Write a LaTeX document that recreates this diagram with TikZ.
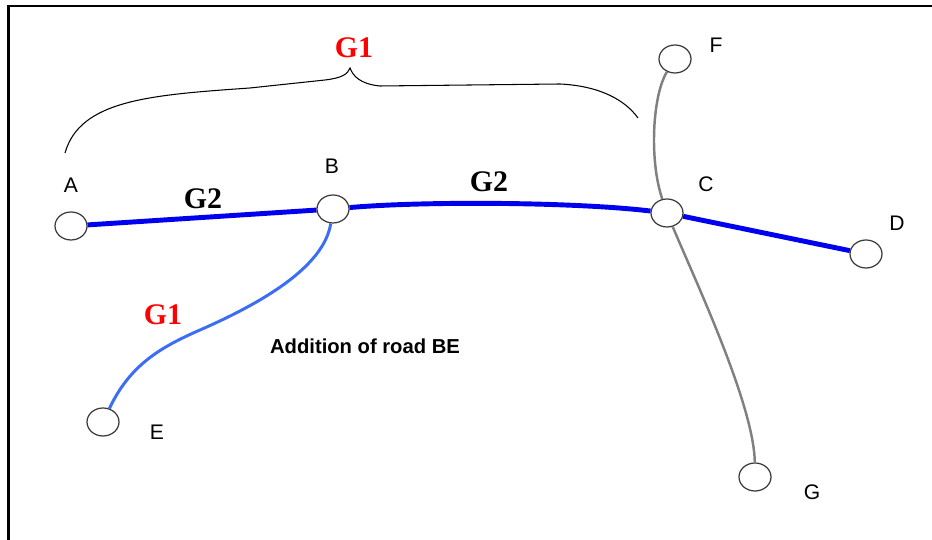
\documentclass[tikz,border=0pt]{standalone}
\usepackage{fontspec}
\setmainfont{Liberation Serif}
\setsansfont{Liberation Sans}
\usepackage{xcolor}
\usetikzlibrary{shapes.geometric}

\definecolor{roadblue}{HTML}{0000EE}
\definecolor{newblue}{HTML}{3C6EF5}
\definecolor{roadgray}{HTML}{808080}
\definecolor{ringgray}{HTML}{3A3A3A}

\begin{document}
\begin{tikzpicture}[
    town/.style={ellipse, draw=ringgray, line width=0.7pt, fill=white,
      minimum width=0.64cm, minimum height=0.56cm, inner sep=0pt},
    lbl/.style={font=\sffamily\fontsize{12}{14}\selectfont},
    glabel/.style={font=\rmfamily\bfseries\fontsize{17}{19}\selectfont},
    mainroad/.style={roadblue, line width=2.8pt},
    newroad/.style={newblue, line width=1.7pt},
    sideroad/.style={roadgray, line width=1.4pt}]
    \useasboundingbox (0,0) rectangle (18.64,10.8);

        % Rahmen
        \draw[line width=1.4pt] (0.17,0) -- (0.17,10.68) -- (18.64,10.68);

        % Orte
        \node[town] (A) at (1.42,6.28) {};
        \node[town] (B) at (6.66,6.62) {};
        \node[town] (C) at (13.34,6.54) {};
        \node[town] (D) at (17.32,5.72) {};
        \node[town] (E) at (2.06,2.36) {};
        \node[town] (F) at (13.50,9.62) {};
        \node[town] (G) at (15.10,1.26) {};

        % Ortsnamen
        \node[lbl] (labA) at (1.42,7.10) {A};
        \node[lbl] (labB) at (6.64,7.48) {B};
        \node[lbl] (labC) at (14.12,7.12) {C};
        \node[lbl] (labD) at (17.94,6.34) {D};
        \node[lbl] (labE) at (3.14,2.16) {E};
        \node[lbl] (labF) at (14.32,9.90) {F};
        \node[lbl] (labG) at (16.24,0.96) {G};

        % Hauptstrasse
        \draw[mainroad] (A) -- (B);
        \draw[mainroad] (B) .. controls (8.5,6.78) and (11.5,6.76) .. (C);
        \draw[mainroad] (C) -- (D);

        % Querstrasse
        \draw[sideroad] (F) .. controls (13.05,8.9) and (12.98,7.6) .. (C);
        \draw[sideroad] (C) .. controls (13.9,5.2) and (15.08,2.7) .. (G);

        % Neue Strasse BE
        \draw[newroad] (B) .. controls (6.5,5.6) and (5.6,4.9) .. (4.0,4.2)
          .. controls (3.2,3.85) and (2.6,3.5) .. (E);

        % Klammer
        \draw[line width=0.6pt] (1.30,7.74)
          .. controls (1.60,8.80) and (3.00,8.90) .. (5.00,9.04)
          -- (6.50,9.20)
          .. controls (6.84,9.24) and (6.96,9.32) .. (7.00,9.44)
          .. controls (7.06,9.28) and (7.20,9.12) .. (7.60,9.08)
          -- (11.20,9.12)
          .. controls (12.00,9.08) and (12.50,8.80) .. (12.76,8.44);

        % Gruppen
        \node[glabel, red] (gOneTop) at (7.08,9.84) {G1};
        \node[glabel] (gTwoLeft) at (4.06,6.82) {G2};
        \node[glabel] (gTwoRight) at (9.78,7.16) {G2};
        \node[glabel, red] (gOneLow) at (3.26,4.50) {G1};

        % Hinweis
        \node[font=\sffamily\bfseries\fontsize{11.5}{13}\selectfont] (note)
          at (7.30,3.88) {Addition of road BE};
      \end{tikzpicture}
\end{document}
